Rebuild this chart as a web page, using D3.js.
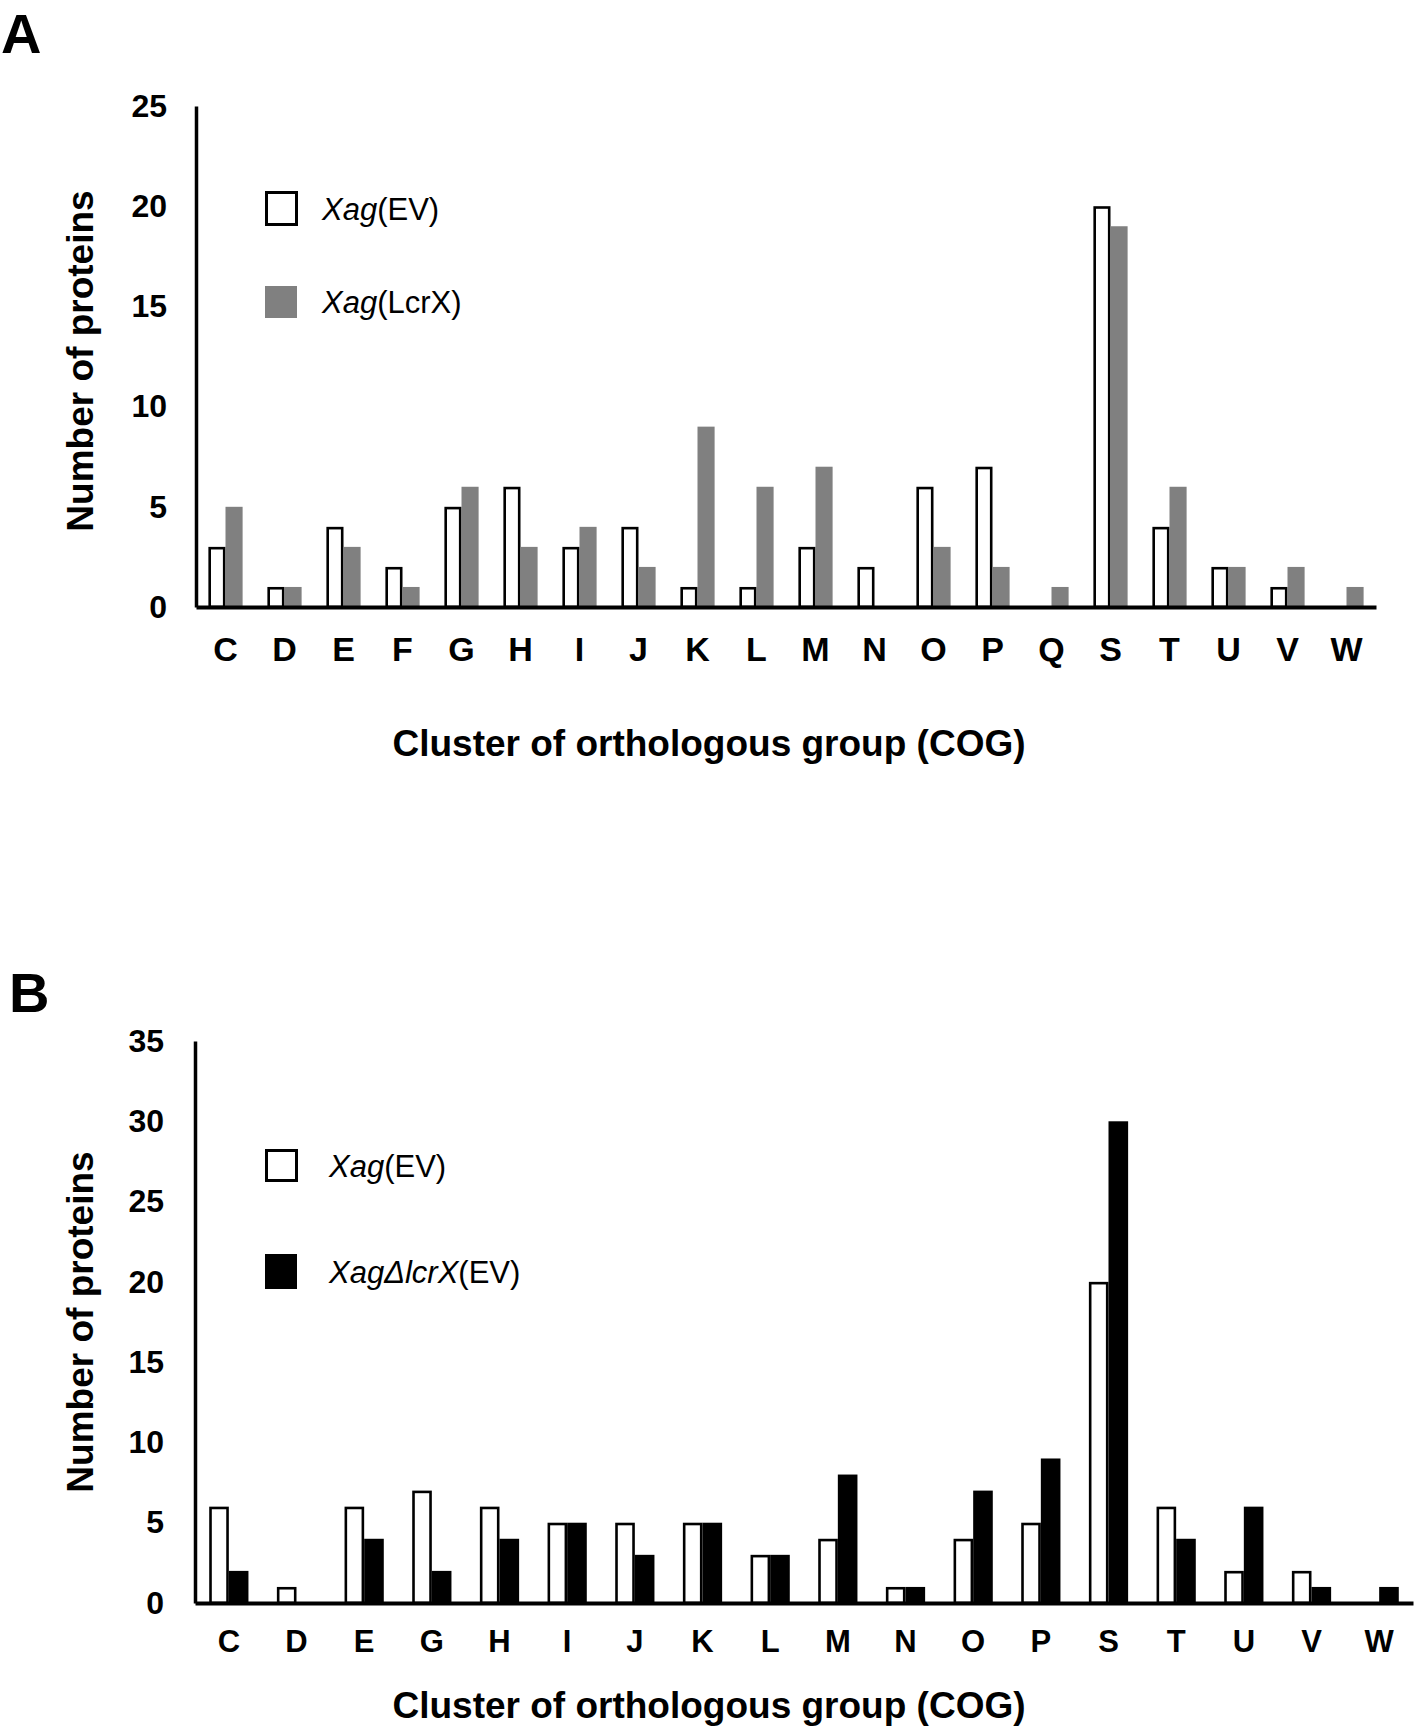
<!DOCTYPE html>
<html><head><meta charset="utf-8">
<script src="https://cdn.jsdelivr.net/npm/d3@7/dist/d3.min.js"></script>
<style>
html,body{margin:0;padding:0;background:#fff;}
svg{display:block;font-family:"Liberation Sans",Arial,Helvetica,sans-serif;}
</style></head>
<body>
<svg id="chart" width="1417" height="1726"></svg>
<script>
// ---- Data ----
const categoriesA = ["C","D","E","F","G","H","I","J","K","L","M","N","O","P","Q","S","T","U","V","W"];
const xagEV_A     = [3,1,4,2,5,6,3,4,1,1,3,2,6,7,0,20,4,2,1,0];
const xagLcrX_A   = [5,1,3,1,6,3,4,2,9,6,7,0,3,2,1,19,6,2,2,1];
const yTicksA     = [0,5,10,15,20,25];

const categoriesB = ["C","D","E","G","H","I","J","K","L","M","N","O","P","S","T","U","V","W"];
const xagEV_B     = [6,1,6,7,6,5,5,5,3,4,1,4,5,20,6,2,2,0];
const xagDlcrX_B  = [2,0,4,2,4,5,3,5,3,8,1,7,9,30,4,6,1,1];
const yTicksB     = [0,5,10,15,20,25,30,35];

const svg = d3.select("#chart");
const FONT = '"Liberation Sans",Arial,Helvetica,sans-serif';

function panel(cfg){
  const g = svg.append("g");
  const x0 = d3.scaleBand().domain(cfg.categories).range([cfg.left, cfg.right])
               .paddingInner(0.42).paddingOuter(0.21);
  const x1 = d3.scaleBand().domain([0,1]).range([0, x0.bandwidth()]);
  const y = d3.scaleLinear().domain([0, cfg.ymax]).range([cfg.zero, cfg.top]);

  // panel letter
  g.append("text").attr("x", cfg.letterX).attr("y", cfg.letterY)
    .attr("font-size", 56).attr("font-weight", "bold").text(cfg.letter);

  // bars
  const sw = 2.6;
  cfg.categories.forEach((c,i)=>{
    const v1 = cfg.s1[i], v2 = cfg.s2[i];
    if (v1 > 0) {
      g.append("rect")
        .attr("x", x0(c) + x1(0) + sw/2).attr("width", x1.bandwidth() - sw)
        .attr("y", y(v1) + sw/2).attr("height", y(0) - y(v1) - sw/2)
        .attr("fill", "#fff").attr("stroke", "#000").attr("stroke-width", sw);
    }
    if (v2 > 0) {
      g.append("rect")
        .attr("x", x0(c) + x1(1)).attr("width", x1.bandwidth())
        .attr("y", y(v2)).attr("height", y(0) - y(v2))
        .attr("fill", cfg.color2);
    }
  });

  // y axis
  const ya = g.append("g").attr("transform", `translate(${cfg.left},0)`)
    .call(d3.axisLeft(y).tickValues(cfg.yTicks).tickSize(0).tickSizeOuter(0).tickPadding(cfg.yPad));
  ya.select(".domain").attr("stroke", "#000").attr("stroke-width", 3.5);
  ya.selectAll("text").attr("font-family", FONT).attr("font-size", 32)
    .attr("font-weight", "bold").attr("fill", "#000");

  // x axis
  const xa = g.append("g").attr("transform", `translate(0,${cfg.zero})`)
    .call(d3.axisBottom(x0).tickSize(0).tickSizeOuter(0).tickPadding(cfg.xPad));
  xa.select(".domain").attr("stroke", "#000").attr("stroke-width", 4);
  xa.selectAll("text").attr("font-family", FONT).attr("font-size", cfg.xFont)
    .attr("font-weight", "bold").attr("fill", "#000");

  // axis titles
  g.append("text").attr("x", 709).attr("y", cfg.xTitleY).attr("text-anchor", "middle")
    .attr("font-size", 37).attr("font-weight", "bold").text("Cluster of orthologous group (COG)");
  g.append("text").attr("transform", `translate(80,${cfg.yTitleY}) rotate(-90)`)
    .attr("text-anchor", "middle").attr("dominant-baseline", "central")
    .attr("font-size", 37).attr("font-weight", "bold").text("Number of proteins");

  // legend
  const lg = g.append("g");
  lg.append("rect").attr("x", 266.5).attr("y", cfg.leg1Y + 1.5).attr("width", 30).attr("height", cfg.leg1H - 3)
    .attr("fill", "#fff").attr("stroke", "#000").attr("stroke-width", 3);
  lg.append("rect").attr("x", 265).attr("y", cfg.leg2Y).attr("width", 32).attr("height", cfg.leg2H)
    .attr("fill", cfg.color2);
  const t1 = lg.append("text").attr("x", cfg.legTextX).attr("y", cfg.leg1Y + cfg.leg1H/2)
    .attr("dominant-baseline", "central").attr("font-size", 31);
  t1.append("tspan").attr("font-style", "italic").text("Xag");
  t1.append("tspan").text("(EV)");
  const t2 = lg.append("text").attr("x", cfg.legTextX).attr("y", cfg.leg2Y + cfg.leg2H/2)
    .attr("dominant-baseline", "central").attr("font-size", 31);
  t2.append("tspan").attr("font-style", "italic").text(cfg.leg2Italic);
  t2.append("tspan").text(cfg.leg2Rest);
}

panel({
  letter: "A", letterX: 1, letterY: 53,
  categories: categoriesA, s1: xagEV_A, s2: xagLcrX_A, color2: "#808080",
  left: 196, right: 1376, zero: 607, top: 106, ymax: 25, yTicks: yTicksA,
  yPad: 29, xPad: 30, xFont: 34, xTitleY: 756, yTitleY: 361,
  leg1Y: 191, leg1H: 35, leg2Y: 286, leg2H: 32, legTextX: 322,
  leg2Italic: "Xag", leg2Rest: "(LcrX)"
});

panel({
  letter: "B", letterX: 9, letterY: 1012,
  categories: categoriesB, s1: xagEV_B, s2: xagDlcrX_B, color2: "#000",
  left: 195, right: 1413, zero: 1603, top: 1041, ymax: 35, yTicks: yTicksB,
  yPad: 31, xPad: 27, xFont: 31, xTitleY: 1718, yTitleY: 1322,
  leg1Y: 1149, leg1H: 33, leg2Y: 1254, leg2H: 35, legTextX: 329,
  leg2Italic: "XagΔlcrX", leg2Rest: "(EV)"
});
</script>
</body></html>
